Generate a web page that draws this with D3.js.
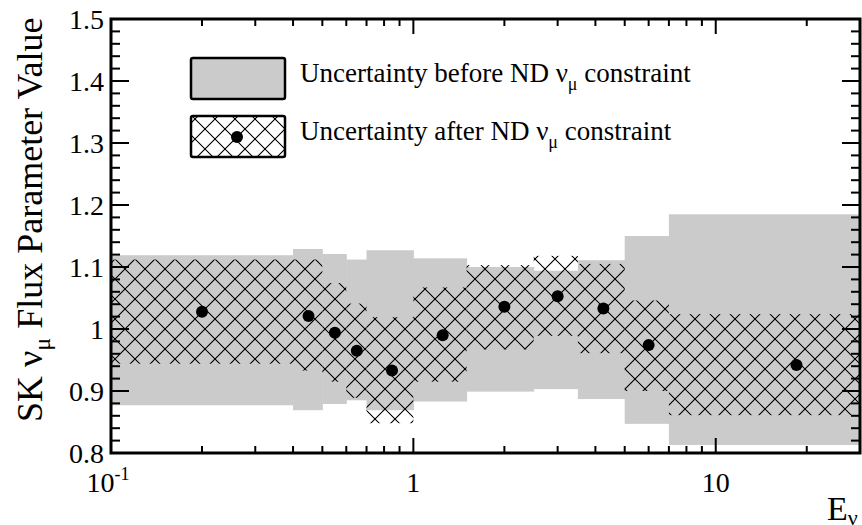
<!DOCTYPE html>
<html>
<head>
<meta charset="utf-8">
<script src="https://cdn.jsdelivr.net/npm/d3@7"></script>
<style>
  body { margin: 0; background: #fff; }
  text { font-family: "Liberation Serif", "Times New Roman", serif; fill: #000; }
</style>
</head>
<body>
<div id="chart"></div>
<script>
// bin edges (GeV) and bin centres for the SK numu flux parameters
var binEdges = [0.1, 0.4, 0.5, 0.6, 0.7, 1.0, 1.5, 2.5, 3.5, 5.0, 7.0, 30];
var pointE = [0.2, 0.45, 0.55, 0.65, 0.85, 1.25, 2.0, 3.0, 4.25, 6.0, 18.5];

// prior (before ND constraint) band
var priorLo = [0.877, 0.869, 0.879, 0.885, 0.869, 0.883, 0.899, 0.903, 0.887, 0.847, 0.813];
var priorHi = [1.119, 1.129, 1.121, 1.112, 1.127, 1.114, 1.100, 1.094, 1.111, 1.150, 1.185];

// posterior (after ND constraint) value and band
var postVal = [1.028, 1.021, 0.994, 0.965, 0.933, 0.990, 1.036, 1.053, 1.033, 0.974, 0.942];
var postLo = [0.944, 0.933, 0.915, 0.889, 0.848, 0.915, 0.967, 0.989, 0.961, 0.900, 0.861];
var postHi = [1.112, 1.112, 1.074, 1.041, 1.019, 1.067, 1.103, 1.118, 1.105, 1.046, 1.024];

var yTicks = [0.8, 0.9, 1, 1.1, 1.2, 1.3, 1.4, 1.5];
var yTickLabels = ['0.8', '0.9', '1', '1.1', '1.2', '1.3', '1.4', '1.5'];
var xMajor = [0.1, 1, 10];

var svgWidth = 862;
var svgHeight = 525;
var margin = { left: 111, right: 860, top: 19, bottom: 453 };

var svg = d3.select('#chart')
    .append('svg')
    .attr('width', svgWidth)
    .attr('height', svgHeight);

var x = d3.scaleLog().domain([0.1, 30]).range([margin.left, margin.right]);
var y = d3.scaleLinear().domain([0.8, 1.5]).range([margin.bottom, margin.top]);

// cross hatch pattern
var defs = svg.append('defs');
var s = 20 / Math.SQRT2;
var pat = defs.append('pattern')
    .attr('id', 'hatch')
    .attr('patternUnits', 'userSpaceOnUse')
    .attr('width', s)
    .attr('height', s)
    .attr('patternTransform', 'translate(5,19) rotate(45)');
pat.append('path')
    .attr('d', `M0,${s / 2}H${s}M${s / 2},0V${s}`)
    .attr('stroke', '#000')
    .attr('stroke-width', 1);

var bins = pointE.map((e, i) => ({
    x0: binEdges[i], x1: binEdges[i + 1], e: e,
    pLo: priorLo[i], pHi: priorHi[i],
    v: postVal[i], lo: postLo[i], hi: postHi[i]
}));

var plot = svg.append('g');

// grey prior bands
plot.selectAll('rect.prior')
    .data(bins)
    .enter()
    .append('rect')
    .attr('class', 'prior')
    .attr('x', d => x(d.x0))
    .attr('width', d => x(d.x1) - x(d.x0) + 0.5)
    .attr('y', d => y(d.pHi))
    .attr('height', d => y(d.pLo) - y(d.pHi))
    .attr('fill', '#cbcbcb');

// hatched posterior bands
plot.selectAll('rect.post')
    .data(bins)
    .enter()
    .append('rect')
    .attr('class', 'post')
    .attr('x', d => x(d.x0))
    .attr('width', d => x(d.x1) - x(d.x0))
    .attr('y', d => y(d.hi))
    .attr('height', d => y(d.lo) - y(d.hi))
    .attr('fill', 'url(#hatch)');

// points
plot.selectAll('circle')
    .data(bins)
    .enter()
    .append('circle')
    .attr('cx', d => x(d.e))
    .attr('cy', d => y(d.v))
    .attr('r', 6)
    .attr('fill', '#000');

// ticks
var axes = svg.append('g').attr('stroke', '#000').attr('stroke-width', 2);
var yMinor = d3.range(0, 36).map(i => 0.8 + i * 0.02);
yMinor.forEach(function(v, i) {
    var len = (i % 5 === 0) ? 18 : 9;
    axes.append('line').attr('x1', margin.left).attr('x2', margin.left + len).attr('y1', y(v)).attr('y2', y(v));
    axes.append('line').attr('x1', margin.right).attr('x2', margin.right - len).attr('y1', y(v)).attr('y2', y(v));
});
var xAll = [];
[0.1, 1, 10].forEach(function(dec) {
    for (var k = 1; k <= 9; k++) {
        var v = dec * k;
        if (v <= 30.0001) xAll.push(v);
    }
});
xAll.forEach(function(v) {
    var major = xMajor.some(m => Math.abs(m - v) < 1e-9);
    var len = major ? 15 : 7;
    axes.append('line').attr('x1', x(v)).attr('x2', x(v)).attr('y1', margin.bottom).attr('y2', margin.bottom - len);
    axes.append('line').attr('x1', x(v)).attr('x2', x(v)).attr('y1', margin.top).attr('y2', margin.top + len);
});

// frame
svg.append('rect')
    .attr('x', margin.left).attr('y', margin.top)
    .attr('width', margin.right - margin.left).attr('height', margin.bottom - margin.top)
    .attr('fill', 'none').attr('stroke', '#000').attr('stroke-width', 3);

// y tick labels
svg.selectAll('text.ytick')
    .data(yTicks)
    .enter()
    .append('text')
    .attr('class', 'ytick')
    .attr('x', 104)
    .attr('y', d => y(d) + 10)
    .attr('text-anchor', 'end')
    .attr('font-size', 28)
    .text((d, i) => yTickLabels[i]);

// x tick labels
var xl = svg.append('g').attr('font-size', 28);
var t0 = xl.append('text').attr('x', x(0.1) - 3).attr('y', 492).attr('text-anchor', 'middle');
t0.append('tspan').text('10');
t0.append('tspan').attr('font-size', 18).attr('dy', -12).text('-1');
xl.append('text').attr('x', x(1)).attr('y', 492).attr('text-anchor', 'middle').text('1');
xl.append('text').attr('x', x(10)).attr('y', 492).attr('text-anchor', 'middle').text('10');

// x title
var xt = svg.append('text').attr('x', 827).attr('y', 520).attr('font-size', 34);
xt.append('tspan').text('E');
xt.append('tspan').attr('font-size', 22).attr('dy', 5).text('ν');

// y title
var yt = svg.append('text')
    .attr('transform', 'translate(42,422) rotate(-90)')
    .attr('font-size', 36);
yt.append('tspan').text('SK ν');
yt.append('tspan').attr('font-size', 24).attr('dy', 8).text('μ');
yt.append('tspan').attr('dy', -8).text(' Flux Parameter Value');

// legend
var lg = svg.append('g');
lg.append('rect').attr('x', 191).attr('y', 58).attr('width', 94).attr('height', 41)
    .attr('rx', 2).attr('fill', '#cbcbcb').attr('stroke', '#000').attr('stroke-width', 2.5);
lg.append('rect').attr('x', 191).attr('y', 116).attr('width', 94).attr('height', 41)
    .attr('rx', 2).attr('fill', '#fff').attr('stroke', 'none');
lg.append('rect').attr('x', 191).attr('y', 116).attr('width', 94).attr('height', 41)
    .attr('rx', 2).attr('fill', 'url(#hatch)').attr('stroke', '#000').attr('stroke-width', 2.5);
lg.append('circle').attr('cx', 237).attr('cy', 137).attr('r', 6).attr('fill', '#000');

var legendText = ['Uncertainty before ND ν', 'Uncertainty after ND ν'];
legendText.forEach(function(t, i) {
    var tx = lg.append('text').attr('x', 300).attr('y', 82 + i * 58).attr('font-size', 27);
    tx.append('tspan').text(t);
    tx.append('tspan').attr('font-size', 18).attr('dy', 8).text('μ');
    tx.append('tspan').attr('dy', -8).text(' constraint');
});
</script>
</body>
</html>
